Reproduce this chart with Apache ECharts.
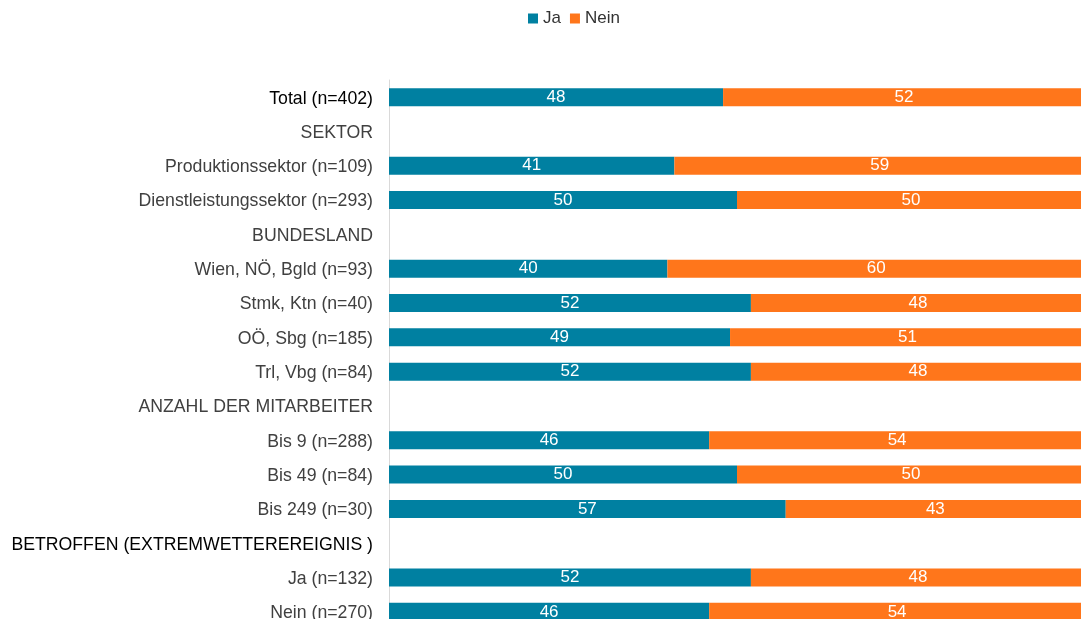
<!DOCTYPE html>
<html>
<head>
<meta charset="utf-8">
<script src="https://cdn.jsdelivr.net/npm/echarts@6/dist/echarts.min.js"></script>
<style>
  html, body { margin: 0; padding: 0; background: #fff; }
  #chart { width: 1081px; height: 619px; }
</style>
</head>
<body>
<div id="chart"></div>
<script>
// rows top to bottom; header rows have no values
const categories = [
    'Total (n=402)',
    'SEKTOR',
    'Produktionssektor (n=109)',
    'Dienstleistungssektor (n=293)',
    'BUNDESLAND',
    'Wien, NÖ, Bgld (n=93)',
    'Stmk, Ktn (n=40)',
    'OÖ, Sbg (n=185)',
    'Trl, Vbg (n=84)',
    'ANZAHL DER MITARBEITER',
    'Bis 9 (n=288)',
    'Bis 49 (n=84)',
    'Bis 249 (n=30)',
    'BETROFFEN (EXTREMWETTEREREIGNIS )',
    'Ja (n=132)',
    'Nein (n=270)'
];
const jaValues   = [48, '-', 41, 50, '-', 40, 52, 49, 52, '-', 46, 50, 57, '-', 52, 46];
const neinValues = [52, '-', 59, 50, '-', 60, 48, 51, 48, '-', 54, 50, 43, '-', 48, 54];

const darkLabels = ['Total (n=402)', 'BETROFFEN (EXTREMWETTEREREIGNIS )'];

const FONT = 'Liberation Sans, Arial, sans-serif';
const chart = echarts.init(document.getElementById('chart'));

const barLabel = {
    show: true,
    position: 'inside',
    color: '#fff',
    fontSize: 17,
    fontFamily: FONT
};

chart.setOption({
    animation: false,
    legend: {
        top: 5,
        left: 523,
        itemWidth: 10,
        itemHeight: 10,
        itemGap: 9,
        icon: 'rect',
        textStyle: { fontSize: 17, color: '#333', fontFamily: FONT },
        data: ['Ja', 'Nein']
    },
    grid: { left: 389, top: 80, width: 696, height: 549, outerBoundsMode: 'none' },
    xAxis: {
        type: 'value',
        min: 0,
        max: 100,
        show: false
    },
    yAxis: {
        type: 'category',
        inverse: true,
        data: categories,
        axisLine: { show: true, lineStyle: { color: '#d9d9d9', width: 1 } },
        axisTick: { show: false },
        axisLabel: {
            margin: 16,
            fontSize: 17.7,
            fontFamily: FONT,
            formatter: v => darkLabels.includes(v) ? '{d|' + v + '}' : '{n|' + v + '}',
            rich: {
                d: { color: '#000', fontSize: 17.7, fontFamily: FONT, padding: [3, 0, 0, 0] },
                n: { color: '#404040', fontSize: 17.7, fontFamily: FONT, padding: [3, 0, 0, 0] }
            }
        }
    },
    series: [
        {
            name: 'Ja',
            type: 'bar',
            stack: 'total',
            barWidth: 18,
            data: jaValues,
            itemStyle: { color: '#0080A1' },
            label: barLabel
        },
        {
            name: 'Nein',
            type: 'bar',
            stack: 'total',
            barWidth: 18,
            data: neinValues,
            itemStyle: { color: '#FF761B' },
            label: barLabel
        }
    ]
});
</script>
</body>
</html>
